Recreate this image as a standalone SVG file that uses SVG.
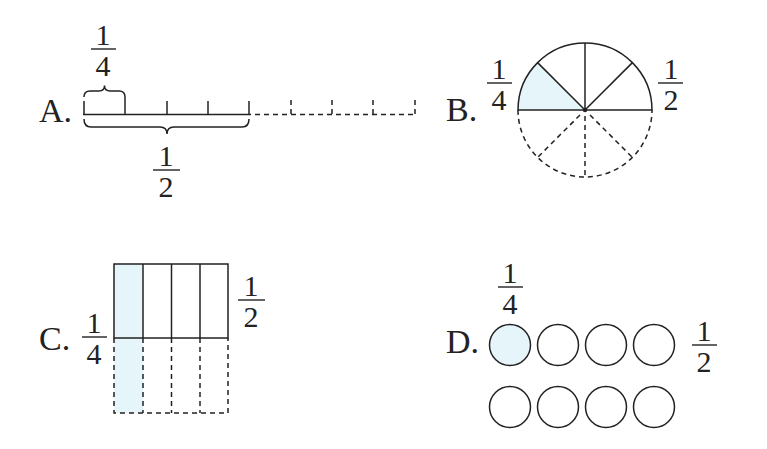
<svg xmlns="http://www.w3.org/2000/svg" width="767" height="449" viewBox="0 0 767 449">
<style>
.ln{stroke:#222;stroke-width:1.5;fill:none}
.ds{stroke:#222;stroke-width:1.5;fill:none;stroke-dasharray:5 4}
.sh{fill:#e6f5fa;stroke:none}
.lbl{font-family:"Liberation Serif","Times New Roman",serif;font-size:34px;fill:#222}
.num{font-family:"Liberation Serif","Times New Roman",serif;font-size:30px;fill:#222;text-anchor:middle}
.bar{stroke:#222;stroke-width:1.4}
</style>
<rect width="767" height="449" fill="#fff"/>

<g id="optionA">
  <text class="lbl" x="39" y="122">A.</text>
  <g id="A-quarter"><text class="num" x="103" y="45">1</text><line class="bar" x1="91" y1="49" x2="116" y2="49"/><text class="num" x="103" y="76">4</text></g>
  <g id="A-half"><text class="num" x="166" y="166">1</text><line class="bar" x1="153" y1="170" x2="180" y2="170"/><text class="num" x="166" y="197">2</text></g>
</g>
<g id="optionB">
  <text class="lbl" x="446" y="121">B.</text>
  <path class="sh" d="M585,110 L518,110 A67,67 0 0 1 537.6,62.6 Z"/>
  <g id="B-quarter"><text class="num" x="499" y="79">1</text><line class="bar" x1="487" y1="83" x2="512" y2="83"/><text class="num" x="499" y="110">4</text></g>
  <g id="B-half"><text class="num" x="671" y="79">1</text><line class="bar" x1="658" y1="83" x2="683" y2="83"/><text class="num" x="671" y="110">2</text></g>
</g>
<g id="optionC">
  <text class="lbl" x="39" y="350">C.</text>
  <rect class="sh" x="114" y="264" width="29" height="149"/>
  <g id="C-quarter"><text class="num" x="94" y="333">1</text><line class="bar" x1="82" y1="337" x2="107" y2="337"/><text class="num" x="94" y="364">4</text></g>
  <g id="C-half"><text class="num" x="251" y="296">1</text><line class="bar" x1="238" y1="300" x2="265" y2="300"/><text class="num" x="251" y="327">2</text></g>
</g>
<g id="optionD">
  <text class="lbl" x="446" y="353">D.</text>
  <g id="D-quarter"><text class="num" x="510" y="283">1</text><line class="bar" x1="498" y1="287" x2="523" y2="287"/><text class="num" x="510" y="314">4</text></g>
  <g id="D-half"><text class="num" x="704" y="341">1</text><line class="bar" x1="692" y1="345" x2="717" y2="345"/><text class="num" x="704" y="372">2</text></g>
</g>

<g id="connectors">
  <!-- A: number line -->
  <line class="ln" x1="83" y1="114.5" x2="251" y2="114.5"/>
  <line class="ln" x1="84" y1="101" x2="84" y2="114.5"/>
  <line class="ln" x1="125" y1="97" x2="125" y2="114.5"/>
  <line class="ln" x1="167" y1="101" x2="167" y2="114.5"/>
  <line class="ln" x1="208" y1="101" x2="208" y2="114.5"/>
  <line class="ln" x1="249" y1="101" x2="249" y2="114.5"/>
  <path class="ln" d="M84,97 Q84,91 90,91 L99,91 Q104.5,91 104.5,85.5 Q104.5,91 110,91 L119,91 Q125,91 125,97"/>
  <path class="ln" d="M84,119 Q84,127 91,127 L160,127 Q167,127 167,134 Q167,127 174,127 L242,127 Q249,127 249,119"/>
  <line class="ds" x1="255" y1="114.5" x2="416" y2="114.5"/>
  <line class="ds" x1="291" y1="100" x2="291" y2="114.5" stroke-dasharray="5 3"/>
  <line class="ds" x1="332" y1="100" x2="332" y2="114.5" stroke-dasharray="5 3"/>
  <line class="ds" x1="373" y1="100" x2="373" y2="114.5" stroke-dasharray="5 3"/>
  <line class="ds" x1="415" y1="100" x2="415" y2="114.5" stroke-dasharray="5 3"/>
  <!-- B: circle -->
  <path class="ln" d="M518,110 A67,67 0 0 1 652,110 Z"/>
  <line class="ln" x1="585" y1="110" x2="537.6" y2="62.6"/>
  <line class="ln" x1="585" y1="110" x2="585" y2="43"/>
  <line class="ln" x1="585" y1="110" x2="632.4" y2="62.6"/>
  <circle cx="585" cy="110" r="2.2" fill="#222"/>
  <path class="ds" d="M518,110 A67,67 0 0 0 652,110"/>
  <line class="ds" x1="580" y1="115" x2="537.6" y2="157.4"/>
  <line class="ds" x1="585" y1="116" x2="585" y2="177"/>
  <line class="ds" x1="590" y1="115" x2="632.4" y2="157.4"/>
  <!-- C: rectangle -->
  <rect class="ln" x="114" y="264" width="114" height="74"/>
  <line class="ln" x1="143" y1="264" x2="143" y2="338"/>
  <line class="ln" x1="171.5" y1="264" x2="171.5" y2="338"/>
  <line class="ln" x1="200" y1="264" x2="200" y2="338"/>
  <path class="ds" d="M114,338 V413 H228 V338"/>
  <line class="ds" x1="143" y1="338" x2="143" y2="413"/>
  <line class="ds" x1="171.5" y1="338" x2="171.5" y2="413"/>
  <line class="ds" x1="200" y1="338" x2="200" y2="413"/>
  <!-- D: circles -->
  <circle class="ln" cx="510" cy="345" r="20.5" style="fill:#e6f5fa"/>
  <circle class="ln" cx="558" cy="345" r="20.5"/>
  <circle class="ln" cx="606" cy="345" r="20.5"/>
  <circle class="ln" cx="654" cy="345" r="20.5"/>
  <circle class="ln" cx="510" cy="407" r="20.5"/>
  <circle class="ln" cx="558" cy="407" r="20.5"/>
  <circle class="ln" cx="606" cy="407" r="20.5"/>
  <circle class="ln" cx="654" cy="407" r="20.5"/>
</g>
</svg>
